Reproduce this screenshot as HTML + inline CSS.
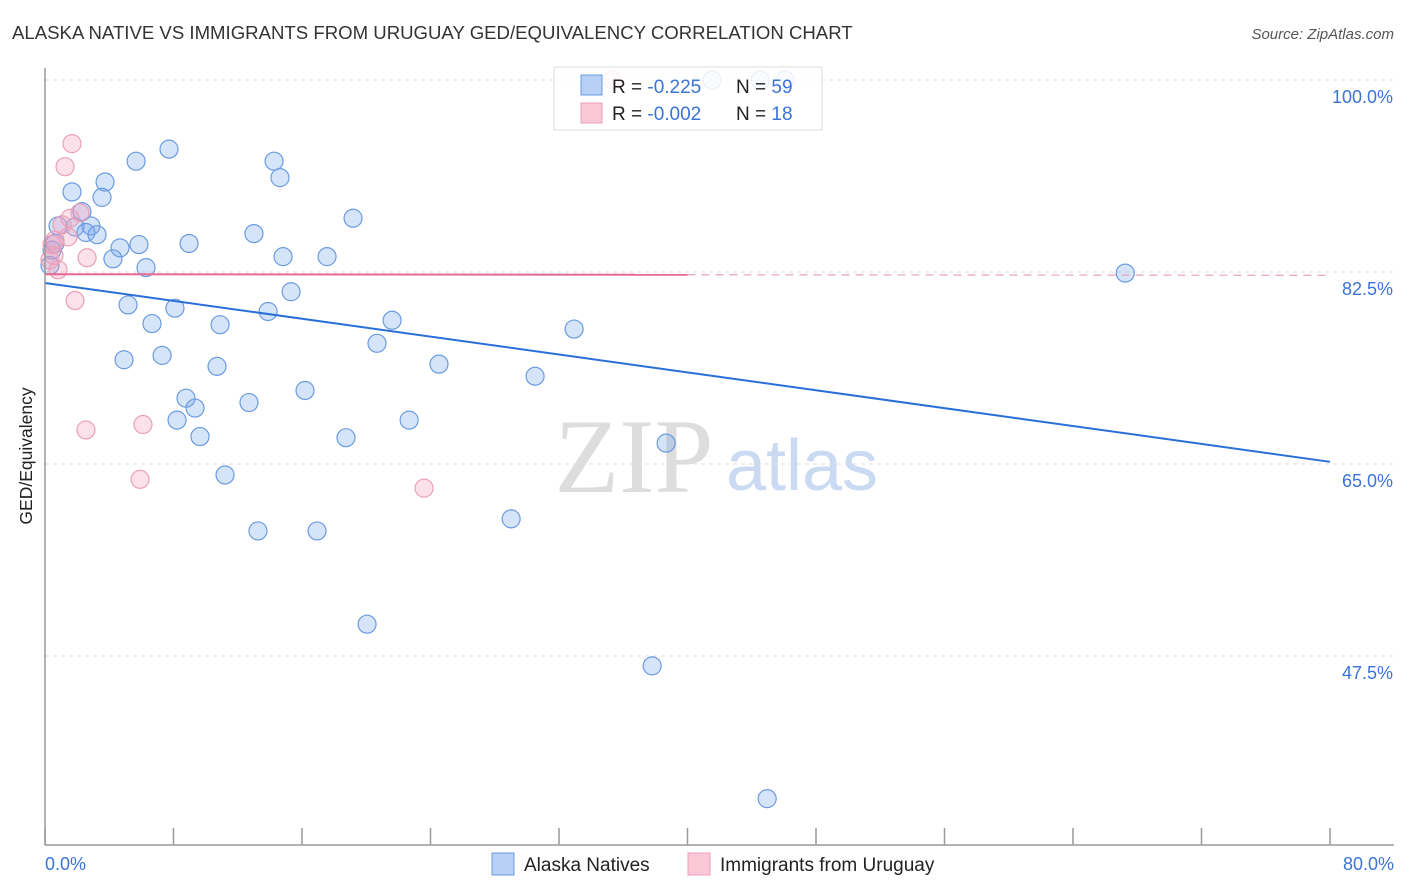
<!DOCTYPE html>
<html><head><meta charset="utf-8"><style>
body{margin:0;background:#fff;font-family:"Liberation Sans",sans-serif}
svg{display:block}
</style></head><body>
<svg id="c" width="1406" height="892" xmlns="http://www.w3.org/2000/svg">
<text x="12" y="39" font-size="18.6" fill="#333">ALASKA NATIVE VS IMMIGRANTS FROM URUGUAY GED/EQUIVALENCY CORRELATION CHART</text>
<text x="1394" y="39" font-size="15" fill="#555" font-style="italic" text-anchor="end">Source: ZipAtlas.com</text>
<text x="634" y="492" font-size="106" fill="#ddd" font-family="Liberation Serif,serif" text-anchor="middle">ZIP</text>
<text x="802" y="490" font-size="72" fill="#c9daf2" text-anchor="middle">atlas</text>
<g id="grid"></g>
<g id="pts"></g>
<g id="lines"></g>
<line x1="45" y1="68" x2="45" y2="845" stroke="#999" stroke-width="1.5"/>
<line x1="45" y1="845" x2="1394" y2="845" stroke="#999" stroke-width="1.5"/>
<text x="32" y="456" font-size="17.5" fill="#222" text-anchor="middle" transform="rotate(-90 32 456)">GED/Equivalency</text>
<text x="45" y="870" font-size="18" fill="#3a74d4">0.0%</text>
<text x="1394" y="870" font-size="18" fill="#3a74d4" text-anchor="end">80.0%</text>
<g>
<rect x="554" y="67" width="268" height="63" fill="rgba(255,255,255,0.85)" stroke="#ddd"/>
<rect x="581" y="75" width="21" height="20" fill="#b8d0f5" stroke="#6a9be0"/>
<rect x="581" y="103" width="21" height="20" fill="#fcc8d8" stroke="#eaa0b8"/>
<text x="612" y="93" font-size="19" fill="#222">R = <tspan fill="#3a74d4">-0.225</tspan></text>
<text x="736" y="93" font-size="19" fill="#222">N = <tspan fill="#3a74d4">59</tspan></text>
<text x="612" y="120" font-size="19" fill="#222">R = <tspan fill="#3a74d4">-0.002</tspan></text>
<text x="736" y="120" font-size="19" fill="#222">N = <tspan fill="#3a74d4"> 18</tspan></text>
</g>
<g><rect x="492" y="853" width="22" height="22" fill="#b8d0f5" stroke="#6a9be0"/><text x="524" y="871" font-size="19" fill="#222">Alaska Natives</text></g>
<g><rect x="688" y="853" width="22" height="22" fill="#fcc8d8" stroke="#eaa0b8"/><text x="720" y="871" font-size="19" fill="#222">Immigrants from Uruguay</text></g>
</svg>
<script>
const yTicks=[100,82.5,65,47.5];
const yTickLabels=["100.0%","82.5%","65.0%","47.5%"];
const xTicks=[0,8,16,24,32,40,48,56,64,72,80];
const blueX=[7.72,5.67,14.26,14.63,3.74,1.68,3.55,2.30,19.18,0.81,1.87,2.86,2.55,3.24,13.01,5.85,8.97,4.67,4.23,14.82,17.56,6.29,67.25,15.32,5.17,8.09,13.89,6.66,10.90,21.61,32.94,20.67,7.29,4.92,10.71,24.53,30.51,16.19,8.78,9.34,12.70,8.22,22.67,9.65,18.74,38.67,11.21,29.02,13.26,16.94,20.05,37.80,44.96,41.53,44.52,46.08,0.44,0.31,0.62];
const blueY=[93.7,92.6,92.6,91.1,90.7,89.8,89.3,88.0,87.4,86.7,86.6,86.7,86.1,85.9,86.0,85.0,85.1,84.7,83.7,83.9,83.9,82.9,82.4,80.7,79.5,79.2,78.9,77.8,77.7,78.1,77.3,76.0,74.9,74.5,73.9,74.1,73.0,71.7,71.0,70.1,70.6,69.0,69.0,67.5,67.4,66.9,64.0,60.0,58.9,58.9,50.4,46.6,34.5,100,100,100,84.5,83.1,85.1];
const pinkX=[1.68,1.25,2.18,1.56,1.43,0.62,0.44,0.56,0.81,2.62,1.87,2.55,6.10,5.92,23.60,35.31,0.31,1.06];
const pinkY=[94.2,92.1,87.9,87.4,85.7,85.4,85.0,84.0,82.7,83.8,79.9,68.1,68.6,63.6,62.8,100,83.6,86.8];
const blueFit=[81.5,65.2];
const pinkFit=[82.3,82.2];
const pinkSolidEnd=40;
const X=v=>45+v*(1285/80);
const Y=v=>80+(100-v)*(192/17.5);
const NS="http://www.w3.org/2000/svg";
function mk(t,a,p){const e=document.createElementNS(NS,t);for(const k in a)e.setAttribute(k,a[k]);p.appendChild(e);return e;}
const grid=document.getElementById('grid');
yTicks.forEach((v,i)=>{
 const l=mk('line',{x1:45,x2:1394,y1:Y(v),y2:Y(v),stroke:'#ddd','stroke-dasharray':'4,4'},grid);
 
 
 const t=mk('text',{x:1393,y:Y(v)+23,'font-size':18,fill:'#3a74d4','text-anchor':'end'},grid);
 t.textContent=yTickLabels[i];
 
 
});
xTicks.forEach(v=>{
 const l=mk('line',{x1:X(v),x2:X(v),y1:828,y2:845,stroke:'#999','stroke-width':1.5},grid);
 
 
});
const pts=document.getElementById('pts');
blueX.forEach((v,i)=>{
 const c=mk('circle',{cx:X(v),cy:Y(blueY[i]),r:9,fill:'rgba(120,165,235,0.3)',stroke:'#6a9be0','stroke-width':1.2},pts);
 
 
});
pinkX.forEach((v,i)=>{
 const c=mk('circle',{cx:X(v),cy:Y(pinkY[i]),r:9,fill:'rgba(245,155,185,0.3)',stroke:'#eaa0b8','stroke-width':1.2},pts);
 
 
});
const lines=document.getElementById('lines');
const pf=x=>pinkFit[0]+(pinkFit[1]-pinkFit[0])*x/80;
let l=mk('line',{x1:X(0),y1:Y(blueFit[0]),x2:X(80),y2:Y(blueFit[1]),stroke:'#2a6fd8','stroke-width':2},lines);


l=mk('line',{x1:X(0),y1:Y(pf(0)),x2:X(pinkSolidEnd),y2:Y(pf(pinkSolidEnd)),stroke:'#e86890','stroke-width':2},lines);


l=mk('line',{x1:X(pinkSolidEnd),y1:Y(pf(pinkSolidEnd)),x2:X(80),y2:Y(pf(80)),stroke:'#eaa0b8','stroke-width':1.2,'stroke-dasharray':'8,6'},lines);


</script>
</body></html>
